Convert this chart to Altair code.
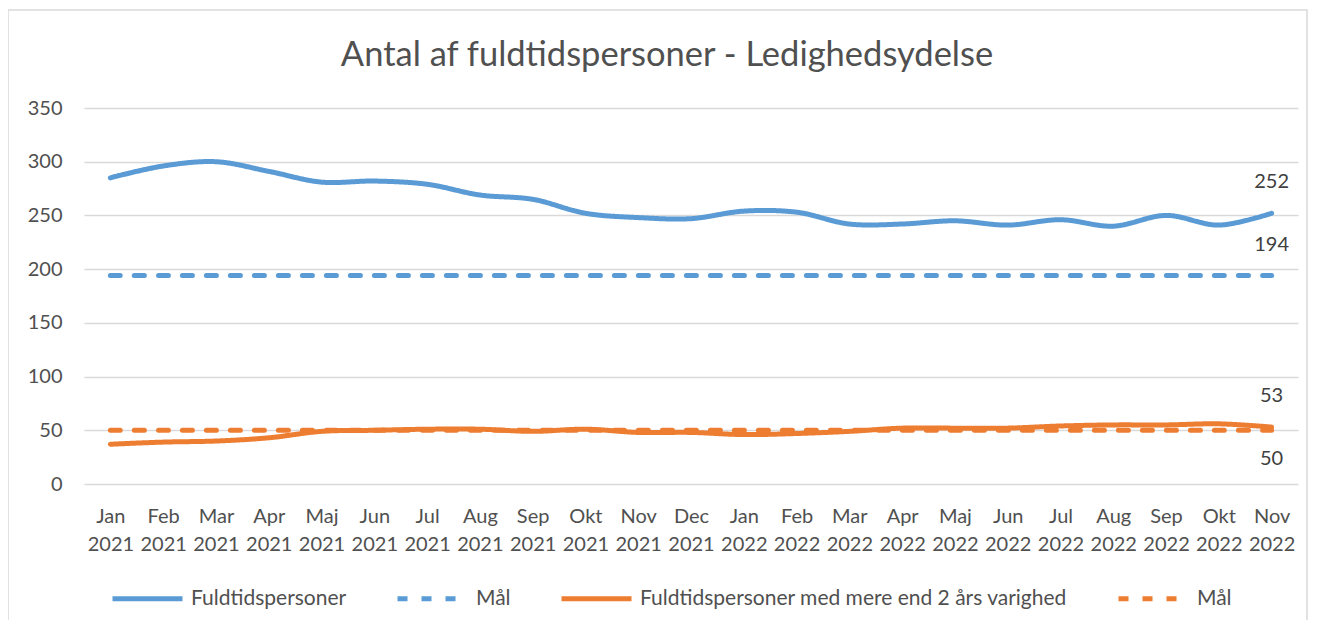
import altair as alt
import pandas as pd

months = ["Jan 2021", "Feb 2021", "Mar 2021", "Apr 2021", "Maj 2021", "Jun 2021",
          "Jul 2021", "Aug 2021", "Sep 2021", "Okt 2021", "Nov 2021", "Dec 2021",
          "Jan 2022", "Feb 2022", "Mar 2022", "Apr 2022", "Maj 2022", "Jun 2022",
          "Jul 2022", "Aug 2022", "Sep 2022", "Okt 2022", "Nov 2022"]

fuldtid = [285, 296, 300, 291, 281, 282, 279, 269, 265, 252, 248, 247,
           254, 253, 242, 242, 245, 241, 246, 240, 250, 241, 252]
maal_fuldtid = [194, 194, 194, 194, 194, 194, 194, 194, 194, 194, 194, 194,
                194, 194, 194, 194, 194, 194, 194, 194, 194, 194, 194]
fuldtid_2aar = [37, 39, 40, 43, 49, 50, 51, 51, 49, 51, 48, 48,
                46, 47, 49, 52, 52, 52, 54, 55, 55, 56, 53]
maal_2aar = [50, 50, 50, 50, 50, 50, 50, 50, 50, 50, 50, 50,
             50, 50, 50, 50, 50, 50, 50, 50, 50, 50, 50]

series_names = ["Fuldtidspersoner", "Mål", "Fuldtidspersoner med mere end 2 års varighed", "Mål\u00a0"]
series_values = [fuldtid, maal_fuldtid, fuldtid_2aar, maal_2aar]
chart_title = ["Antal af fuldtidspersoner - Ledighedsydelse"]

rows = []
for name, vals in zip(series_names, series_values):
    for m, v in zip(months, vals):
        rows.append({"month": m, "value": v, "series": name})
df = pd.DataFrame(rows)

last = df[df["month"] == months[-1]]
above = last[last["series"].isin(["Fuldtidspersoner", "Mål", "Fuldtidspersoner med mere end 2 års varighed"])]
below = last[last["series"] == "Mål\u00a0"]

FONT = "Lato"
TXT = "#505050"

x_enc = alt.X("month:N", sort=months, title=None,
              scale=alt.Scale(type="point", padding=0.5),
              axis=alt.Axis(labelExpr="split(datum.label, ' ')", labelAngle=0,
                            labelFontSize=20, labelColor=TXT, labelFont=FONT,
                            labelLineHeight=28, labelPadding=22, ticks=False,
                            domain=False, grid=False, labelBaseline="top"))
y_enc = alt.Y("value:Q", title=None,
              scale=alt.Scale(domain=[0, 350], nice=False),
              axis=alt.Axis(values=[0, 50, 100, 150, 200, 250, 300, 350],
                            labelFontSize=20, labelColor=TXT, labelFont=FONT,
                            labelPadding=22, ticks=False, domain=False,
                            gridColor="#D9D9D9", gridWidth=1.3))

lines = alt.Chart(df).mark_line(interpolate="catmull-rom", strokeWidth=5, strokeCap="round").encode(
    x=x_enc,
    y=y_enc,
    color=alt.Color("series:N", sort=series_names,
                    scale=alt.Scale(domain=series_names,
                                    range=["#5B9BD5", "#5B9BD5", "#ED7D31", "#ED7D31"]),
                    legend=alt.Legend(title=None, orient="none", direction="horizontal",
                                      legendX=26, legendY=453,
                                      symbolType="stroke", symbolSize=4900,
                                      symbolStrokeWidth=5, labelFontSize=21,
                                      labelColor=TXT, labelFont=FONT, labelOffset=6,
                                      columnPadding=40, labelLimit=600)),
    strokeDash=alt.StrokeDash("series:N", sort=series_names,
                              scale=alt.Scale(domain=series_names,
                                              range=[[1, 0], [10, 14], [1, 0], [10, 14]]),
                              legend=None),
    detail="series:N",
)

lab_above = alt.Chart(above).mark_text(fontSize=20, font=FONT, color="#404040", dy=-31).encode(
    x=alt.X("month:N", sort=months, scale=alt.Scale(type="point", padding=0.5)),
    y="value:Q",
    text="value:Q",
)
lab_below = alt.Chart(below).mark_text(fontSize=20, font=FONT, color="#404040", dy=29).encode(
    x=alt.X("month:N", sort=months, scale=alt.Scale(type="point", padding=0.5)),
    y="value:Q",
    text="value:Q",
)

title = alt.Chart(pd.DataFrame({"t": chart_title})).mark_text(
    fontSize=34.5, font=FONT, color=TXT, align="center", baseline="middle").encode(
    x=alt.value(583), y=alt.value(-52), text="t:N")

border = alt.Chart(pd.DataFrame({"a": [0]})).mark_rect(
    fill=None, stroke="#D9D9D9", strokeWidth=1.5).encode(
    x=alt.value(-76), x2=alt.value(1223), y=alt.value(-98), y2=alt.value(540))

chart = alt.layer(border, title, lines, lab_above, lab_below).properties(
    width=1214, height=376,
    autosize=alt.AutoSizeParams(type="none"),
    padding={"left": 76, "top": 100, "right": 11, "bottom": 136},
).configure_view(stroke=None)

chart.save("out.html", embed_options={"renderer": "svg", "actions": False})
